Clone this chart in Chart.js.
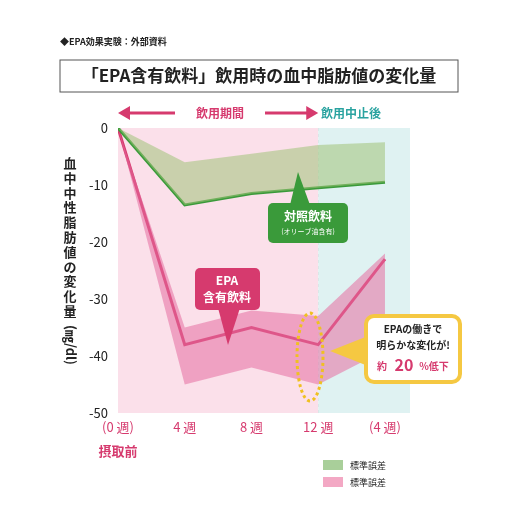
<!DOCTYPE html><html><head><meta charset="utf-8">
<script src="https://cdn.jsdelivr.net/npm/chart.js@4"></script>
<style>body{margin:0;background:#fff}#w{width:516px;height:516px}</style></head><body><div id="w"><canvas id="c"></canvas></div>
<script>
const weeks=[0,4,8,12,16];
const tickLabels=['(0 週)','4 週','8 週','12 週','(4 週)'];
const epaMean=[0,-38,-35,-38,-23];
const epaUpper=[0,-35,-32,-33,-22];
const epaLower=[0,-45,-42,-45,-39];
const ctrlMean=[0,-13.5,-11.5,-10.5,-9.5];
const ctrlUpper=[0,-6,-4.5,-3,-2.5];
const pts=a=>a.map((v,i)=>({x:weeks[i],y:v}));
const F='"Noto Sans CJK JP"';
const bg={id:'bg',beforeDatasetsDraw(c){const {ctx,chartArea:a,scales:{x,y}}=c;
 ctx.save();ctx.fillStyle='#fbe0ea';ctx.fillRect(a.left,a.top,x.getPixelForValue(12)-a.left,a.bottom-a.top);
 ctx.fillStyle='#dff2f2';ctx.fillRect(x.getPixelForValue(12),a.top,a.right-x.getPixelForValue(12),a.bottom-a.top);ctx.restore();}};
const deco={id:'deco',afterDraw(c){const {ctx,scales:{x,y}}=c;ctx.save();
 ctx.font='bold 9px '+F;ctx.fillStyle='#222';ctx.fillText('◆EPA効果実験：外部資料',60,45);
 ctx.strokeStyle='#555';ctx.lineWidth=1;ctx.strokeRect(60,60,398,32);
 ctx.font='bold 17px '+F;ctx.textAlign='center';ctx.fillText('「EPA含有飲料」飲用時の血中脂肪値の変化量',259,82);
 const ay=113,x0=x.getPixelForValue(0),x12=x.getPixelForValue(12);
 ctx.strokeStyle='#d63a6e';ctx.fillStyle='#d63a6e';ctx.lineWidth=3;
 ctx.beginPath();ctx.moveTo(x0+8,ay);ctx.lineTo(175,ay);ctx.moveTo(265,ay);ctx.lineTo(x12-8,ay);ctx.stroke();
 ctx.beginPath();ctx.moveTo(x0,ay);ctx.lineTo(x0+12,ay-7);ctx.lineTo(x0+12,ay+7);ctx.fill();
 ctx.beginPath();ctx.moveTo(x12,ay);ctx.lineTo(x12-12,ay-7);ctx.lineTo(x12-12,ay+7);ctx.fill();
 ctx.font='bold 12px '+F;ctx.fillText('飲用期間',220,118);
 ctx.fillStyle='#2aa3a0';ctx.fillText('飲用中止後',351,118);
 ctx.fillStyle='#222';ctx.font='bold 13px '+F;const t='血中中性脂肪値の変化量';
 for(let i=0;i<t.length;i++)ctx.fillText(t[i],70,168+i*14.8);
 ctx.save();ctx.translate(70,345);ctx.rotate(Math.PI/2);ctx.fillText('(㎎/dl)',0,4);ctx.restore();
 ctx.fillStyle='#d63a6e';ctx.fillText('摂取前',x0,456);
 ctx.fillStyle='#3a9a3a';ctx.beginPath();ctx.roundRect(268,203,80,40,5);ctx.fill();
 ctx.beginPath();ctx.moveTo(290,205);ctx.lineTo(298,172);ctx.lineTo(310,205);ctx.fill();
 ctx.fillStyle='#fff';ctx.font='bold 12px '+F;ctx.fillText('対照飲料',308,221);ctx.font='7px '+F;ctx.fillText('(オリーブ油含有)',308,234);
 ctx.fillStyle='#d63a6e';ctx.beginPath();ctx.roundRect(195,268,65,42,5);ctx.fill();
 ctx.beginPath();ctx.moveTo(218,308);ctx.lineTo(228,345);ctx.lineTo(240,308);ctx.fill();
 ctx.fillStyle='#fff';ctx.font='bold 12px '+F;ctx.fillText('EPA',227,285);ctx.fillText('含有飲料',227,302);
 ctx.fillStyle='#f5c842';ctx.beginPath();ctx.moveTo(330,351);ctx.lineTo(368,336);ctx.lineTo(368,366);ctx.fill();
 ctx.fillStyle='#fff';ctx.strokeStyle='#f5c842';ctx.lineWidth=4;ctx.beginPath();ctx.roundRect(366,316,94,66,8);ctx.fill();ctx.stroke();
 ctx.fillStyle='#222';ctx.font='bold 10px '+F;ctx.fillText('EPAの働きで',413,333);ctx.fillText('明らかな変化が!',413,349);
 ctx.fillStyle='#d63a6e';ctx.fillText('約',382,370);ctx.font='bold 16px '+F;ctx.fillText('20',404,371);ctx.font='bold 10px '+F;ctx.fillText('%低下',434,370);
 ctx.setLineDash([3,3]);ctx.strokeStyle='#f0c020';ctx.lineWidth=3;ctx.beginPath();ctx.ellipse(310,357,13,44,0,0,Math.PI*2);ctx.stroke();ctx.setLineDash([]);
 ctx.textAlign='left';ctx.font='9px '+F;
 ctx.fillStyle='#a9cf9a';ctx.fillRect(323,460,20,10);ctx.fillStyle='#f3a8c4';ctx.fillRect(323,477,20,10);
 ctx.fillStyle='#222';ctx.fillText('標準誤差',350,469);ctx.fillText('標準誤差',350,486);
 ctx.restore();}};
new Chart(document.getElementById('c'),{type:'line',
 data:{datasets:[
  {data:pts(ctrlUpper),borderWidth:0,pointRadius:0,fill:'+1',backgroundColor:'rgba(160,195,120,0.55)'},
  {data:pts(ctrlMean),borderColor:'#3a9a3a',borderWidth:3,pointRadius:0,fill:false},
  {data:pts(epaUpper),borderWidth:0,pointRadius:0,fill:'+1',backgroundColor:'rgba(230,110,160,0.55)'},
  {data:pts(epaLower),borderWidth:0,pointRadius:0,fill:false},
  {data:pts(epaMean),borderColor:'#d63a6e',borderWidth:3,pointRadius:0,fill:false}]},
 options:{responsive:true,maintainAspectRatio:false,animation:false,
  layout:{padding:{top:128,right:106,left:0,bottom:0}},
  plugins:{legend:{display:false},tooltip:{enabled:false}},
  scales:{
   x:{type:'linear',min:0,max:17.5,afterFit(s){s.height=103},
    afterBuildTicks(s){s.ticks=weeks.map(v=>({value:v}))},
    ticks:{callback:(v)=>tickLabels[weeks.indexOf(v)],color:'#d63a6e',font:{size:13,family:F},padding:6},
    grid:{color:c=>c.tick.value===0?'rgba(0,0,0,0)':'#bbb',drawTicks:false},border:{display:false,dash:[3,3]}},
   y:{min:-50,max:0,afterFit(s){s.width=118},ticks:{stepSize:10,color:'#222',font:{size:13,family:F},padding:10},
    grid:{color:c=>(c.tick.value===0||c.tick.value===-50)?'rgba(0,0,0,0)':'#bbb',drawTicks:false},border:{display:false,dash:[3,3]}}}},
 plugins:[bg,deco]});
</script></body></html>
